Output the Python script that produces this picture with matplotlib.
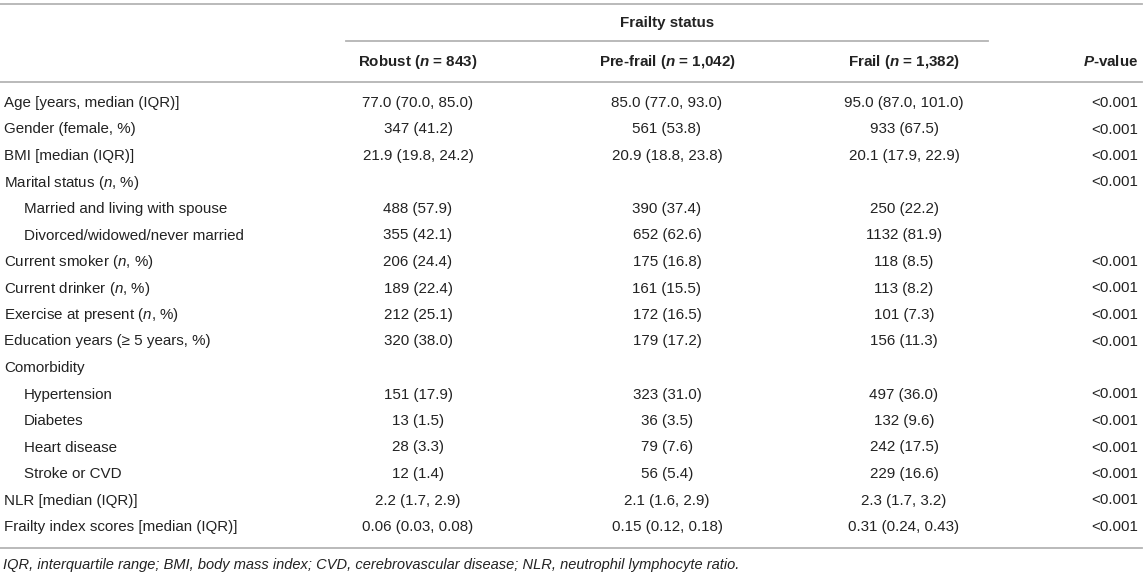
import matplotlib.pyplot as plt

plt.rcParams['font.family'] = ['Liberation Sans', 'DejaVu Sans']
plt.rcParams['mathtext.fontset'] = 'custom'
plt.rcParams['mathtext.it'] = 'Liberation Sans:italic'
plt.rcParams['mathtext.rm'] = 'Liberation Sans'
plt.rcParams['mathtext.bf'] = 'Liberation Sans:bold'
plt.rcParams['mathtext.bfit'] = 'Liberation Sans:bold:italic'

# table content
labels = ['Age [years, median (IQR)]', 'Gender (female, %)', 'BMI [median (IQR)]',
          'Marital status ($\\mathit{n}$, %)', 'Married and living with spouse',
          'Divorced/widowed/never married', 'Current smoker ($\\mathit{n}$, %)',
          'Current drinker ($\\mathit{n}$, %)', 'Exercise at present ($\\mathit{n}$, %)',
          'Education years (≥ 5 years, %)', 'Comorbidity', 'Hypertension', 'Diabetes',
          'Heart disease', 'Stroke or CVD', 'NLR [median (IQR)]',
          'Frailty index scores [median (IQR)]']
indent = [0, 0, 0, 0, 1, 1, 0, 0, 0, 0, 0, 1, 1, 1, 1, 0, 0]
robust = ['77.0 (70.0, 85.0)', '347 (41.2)', '21.9 (19.8, 24.2)', '', '488 (57.9)',
          '355 (42.1)', '206 (24.4)', '189 (22.4)', '212 (25.1)', '320 (38.0)', '',
          '151 (17.9)', '13 (1.5)', '28 (3.3)', '12 (1.4)', '2.2 (1.7, 2.9)',
          '0.06 (0.03, 0.08)']
prefrail = ['85.0 (77.0, 93.0)', '561 (53.8)', '20.9 (18.8, 23.8)', '', '390 (37.4)',
            '652 (62.6)', '175 (16.8)', '161 (15.5)', '172 (16.5)', '179 (17.2)', '',
            '323 (31.0)', '36 (3.5)', '79 (7.6)', '56 (5.4)', '2.1 (1.6, 2.9)',
            '0.15 (0.12, 0.18)']
frail = ['95.0 (87.0, 101.0)', '933 (67.5)', '20.1 (17.9, 22.9)', '', '250 (22.2)',
         '1132 (81.9)', '118 (8.5)', '113 (8.2)', '101 (7.3)', '156 (11.3)', '',
         '497 (36.0)', '132 (9.6)', '242 (17.5)', '229 (16.6)', '2.3 (1.7, 3.2)',
         '0.31 (0.24, 0.43)']
pvals = ['<0.001', '<0.001', '<0.001', '<0.001', '', '', '<0.001', '<0.001', '<0.001',
         '<0.001', '', '<0.001', '<0.001', '<0.001', '<0.001', '<0.001', '<0.001']
headers = ['Robust ($\\mathbfit{n}$ = 843)', 'Pre-frail ($\\mathbfit{n}$ = 1,042)',
           'Frail ($\\mathbfit{n}$ = 1,382)']
footnote = ('IQR, interquartile range; BMI, body mass index; CVD, cerebrovascular disease; '
            'NLR, neutrophil lymphocyte ratio.')

W, H = 1145, 577
fig = plt.figure(figsize=(W / 100, H / 100), dpi=100)
ax = fig.add_axes([0, 0, 1, 1])
ax.set_xlim(0, W)
ax.set_ylim(H, 0)
ax.axis('off')

txt = '#222222'
lc = '#b4b4b4'
fs = 10.9
col_x = [418, 667, 904]
p_x = 1138
row0, dy = 103, 26.5

# rules
ax.plot([0, 1142], [4, 4], color=lc, lw=1.3)
ax.plot([346, 988], [41, 41], color=lc, lw=1.3)
ax.plot([0, 1142], [82, 82], color=lc, lw=1.3)
ax.plot([0, 1142], [548, 548], color=lc, lw=1.3)

# header
ax.text(667, 23, 'Frailty status', ha='center', va='center', fontsize=fs,
        fontweight='bold', color=txt)
for x, h in zip(col_x, headers):
    ax.text(x, 62, h, ha='center', va='center', fontsize=fs, fontweight='bold', color=txt)
ax.text(p_x, 62, '$\\mathbfit{P}$-value', ha='right', va='center', fontsize=fs,
        fontweight='bold', color=txt)

# body
for i, lab in enumerate(labels):
    y = row0 + i * dy
    ax.text(4 + 20 * indent[i], y, lab, ha='left', va='center', fontsize=fs, color=txt)
    for x, col in zip(col_x, [robust, prefrail, frail]):
        ax.text(x, y, col[i], ha='center', va='center', fontsize=fs, color=txt)
    ax.text(p_x, y, pvals[i], ha='right', va='center', fontsize=fs, color=txt)

ax.text(3, 565, footnote, ha='left', va='center', fontsize=10.5, style='italic', color=txt)

fig.savefig('out.png', dpi=100)
